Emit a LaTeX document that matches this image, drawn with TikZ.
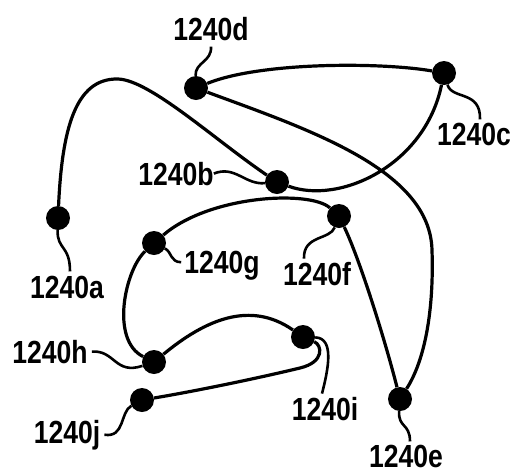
\documentclass[tikz,border=0pt]{standalone}
\usepackage{fontspec}
\setmainfont{Liberation Sans}[FakeStretch=0.83]
\usetikzlibrary{positioning}

\begin{document}
\begin{tikzpicture}[x=1pt, y=-1pt,
        dot/.style={circle, fill=black, inner sep=0pt, minimum size=24pt},
        lbl/.style={anchor=base, inner sep=0pt, font=\fontsize{32}{32}\selectfont\bfseries},
        wire/.style={line width=3.2pt},
        lead/.style={line width=2.6pt}
        ]
        \useasboundingbox (0,0) rectangle (515,475);
        \node[dot] (a) at (58,218) {};
        \node[dot] (b) at (277,182) {};
        \node[dot] (c) at (444,73) {};
        \node[dot] (d) at (196,88) {};
        \node[dot] (e) at (400,399) {};
        \node[dot] (f) at (339,216) {};
        \node[dot] (g) at (154,243) {};
        \node[dot] (h) at (154,362) {};
        \node[dot] (i) at (303,337) {};
        \node[dot] (j) at (142,400) {};
        \node[lbl] (la) at (67,298) {1240a};
        \node[lbl] (lb) at (176,185) {1240b};
        \node[lbl] (lc) at (474,145) {1240c};
        \node[lbl] (ld) at (211,40) {1240d};
        \node[lbl] (le) at (406,467) {1240e};
        \node[lbl] (lf) at (317,285) {1240f};
        \node[lbl] (lg) at (222,273) {1240g};
        \node[lbl] (lh) at (50,363) {1240h};
        \node[lbl] (li) at (325,420) {1240i};
        \node[lbl] (lj) at (67,443) {1240j};
        \draw[wire] (a) .. controls (62,130) and (75,78) .. (118,79)
          .. controls (150,80) and (215,140) .. (b)
          .. controls (340,205) and (425,165) .. (c)
          .. controls (380,62) and (260,62) .. (d)
          .. controls (310,130) and (430,170) .. (432,250)
          .. controls (434,310) and (425,360) .. (e)
          .. controls (385,340) and (360,260) .. (f)
          .. controls (310,190) and (210,195) .. (g)
          .. controls (125,270) and (110,340) .. (h)
          .. controls (205,320) and (250,300) .. (i)
          .. controls (322,345) and (325,362) .. (300,368)
          .. controls (250,380) and (190,392) .. (j);
        \draw[lead] (a) .. controls (57,250) and (70,245) .. ([xshift=3pt,yshift=4pt]la.north);
        \draw[lead] (lb.east) .. controls (235,165) and (245,185) .. (b);
        \draw[lead] (c) .. controls (452,100) and (481,90) .. ([xshift=6pt,yshift=3pt]lc.north);
        \draw[lead] ([yshift=-6pt]ld.south) .. controls (212,62) and (195,62) .. (d);
        \draw[lead] (e) .. controls (398,428) and (410,423) .. ([xshift=4pt,yshift=3pt]le.north);
        \draw[lead] (f) .. controls (330,240) and (303,235) .. ([xshift=-13pt,yshift=3pt]lf.north);
        \draw[lead] (g) .. controls (172,252) and (170,262) .. ([xshift=-3pt,yshift=3pt]lg.west);
        \draw[lead] ([xshift=4pt]lh.east) .. controls (115,350) and (115,375) .. (h);
        \draw[lead] (i) .. controls (335,338) and (328,370) .. ([xshift=-3pt,yshift=3pt]li.north);
        \draw[lead] ([xshift=4pt]lj.east) .. controls (125,438) and (120,412) .. (j);
\end{tikzpicture}
\end{document}
